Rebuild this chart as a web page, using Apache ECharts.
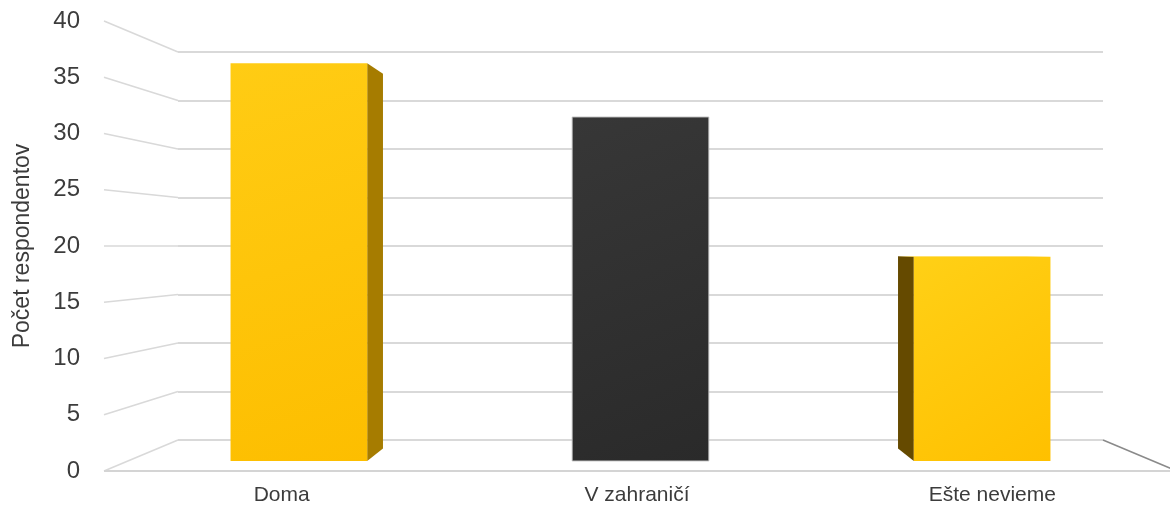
<!DOCTYPE html>
<html><head><meta charset="utf-8">
<script src="https://cdn.jsdelivr.net/npm/echarts@6/dist/echarts.min.js"></script>
<style>html,body{margin:0;padding:0;background:#fff}#c{width:1170px;height:506px}</style>
</head><body><div id="c"></div>
<script>
// ---- data ----
const categories = ['Doma', 'V zahraničí', 'Ešte nevieme'];
const values = [37, 32, 19];
const yTicks = [0, 5, 10, 15, 20, 25, 30, 35, 40];
const yAxisTitle = 'Počet respondentov';

// ---- style ----
const frontColors = [['#ffcc14', '#fdbe00'], ['#373737', '#2a2a2a'], ['#ffd016', '#ffc000']];
const sideColors = ['#a67c00', '#222222', '#654a00'];
const FONT = "'Liberation Sans', Arial, sans-serif";
const TXT = '#3c3c3c';

const W = 1170, H = 506;
const back = { left: 178, right: 67, top: 52, bottom: 66 };
const K_FRONT = 1.16, K_BAR_FRONT = 1.108, K_BAR_BACK = 1.044;
const bw = W - back.left - back.right, bh = H - back.top - back.bottom;
const vx = back.left + bw / 2, vy = back.top + bh / 2;
const front = {
  left: vx - (bw / 2) * K_FRONT,
  right: W - (vx + (bw / 2) * K_FRONT),
  top: vy - (bh / 2) * K_FRONT,
  bottom: H - (vy + (bh / 2) * K_FRONT)
};

function vp(cs) { return [cs.x + cs.width / 2, cs.y + cs.height / 2]; }
function proj(p, k, c) { return [c[0] + (p[0] - c[0]) * k, c[1] + (p[1] - c[1]) * k]; }

function renderBar(params, api) {
  const cs = params.coordSys, c = vp(cs);
  const i = api.value(0), v = api.value(1);
  const b0 = api.coord([i, 0]), t0 = api.coord([i, v]);
  const w = api.size([1, 0])[0] * 0.4;
  const L = b0[0] - w / 2, R = b0[0] + w / 2;
  const f = (x, y) => proj([x, y], K_BAR_FRONT, c);
  const bk = (x, y) => proj([x, y], K_BAR_BACK, c);
  const fl0 = f(L, b0[1]), fr0 = f(R, b0[1]), fl1 = f(L, t0[1]), fr1 = f(R, t0[1]);
  const bl0 = bk(L, b0[1]), br0 = bk(R, b0[1]), bl1 = bk(L, t0[1]), br1 = bk(R, t0[1]);
  const children = [];
  if (R < c[0]) {
    children.push({ type: 'polygon', shape: { points: [fr1, br1, br0, fr0] }, style: { fill: sideColors[i] } });
  } else if (L > c[0]) {
    children.push({ type: 'polygon', shape: { points: [fl1, bl1, bl0, fl0] }, style: { fill: sideColors[i] } });
  }
  if (t0[1] > c[1]) {
    children.push({ type: 'polygon', shape: { points: [fl1, fr1, br1, bl1] }, style: { fill: frontColors[i][0] } });
  }
  const fc = frontColors[i];
  children.push({
    type: 'polygon',
    shape: { points: [fl1, fr1, fr0, fl0] },
    style: {
      fill: new echarts.graphic.LinearGradient(0, 0, 1, 1, [{ offset: 0, color: fc[0] }, { offset: 1, color: fc[1] }]),
      stroke: i === 1 ? 'rgba(190,190,190,0.9)' : null,
      lineWidth: 1
    }
  });
  return { type: 'group', children };
}

function renderFloor(params, api) {
  const cs = params.coordSys, c = vp(cs);
  const v = api.value(0);
  const y = api.coord([0, v])[1];
  const pb = [cs.x, y];
  const pf = proj(pb, K_FRONT, c);
  const children = [{
    type: 'line', shape: { x1: pf[0], y1: pf[1], x2: pb[0], y2: pb[1] },
    style: { stroke: '#d9d9d9', lineWidth: 1.6 }
  }];
  if (v === 0) {
    const rb = [cs.x + cs.width, y];
    const rf = proj(rb, K_FRONT, c);
    children.push({ type: 'line', shape: { x1: pf[0], y1: pf[1], x2: rf[0], y2: rf[1] }, style: { stroke: '#d4d4d4', lineWidth: 2 } });
    children.push({ type: 'line', shape: { x1: rb[0], y1: rb[1], x2: rf[0], y2: rf[1] }, style: { stroke: '#8a8a8a', lineWidth: 1.5 } });
  }
  return { type: 'group', children };
}

const chart = echarts.init(document.getElementById('c'), null, { renderer: 'canvas' });
chart.setOption({
  animation: false,
  backgroundColor: '#ffffff',
  textStyle: { fontFamily: FONT },
  grid: [
    { left: back.left, right: back.right, top: back.top, bottom: back.bottom, containLabel: false },
    { left: front.left, right: front.right, top: front.top, bottom: front.bottom, containLabel: false }
  ],
  xAxis: [
    { type: 'category', gridIndex: 0, data: categories, boundaryGap: true,
      axisLine: { show: false }, axisTick: { show: false }, axisLabel: { show: false }, splitLine: { show: false } },
    { type: 'category', gridIndex: 1, data: categories, boundaryGap: true,
      axisLine: { show: false }, axisTick: { show: false }, splitLine: { show: false },
      axisLabel: { color: TXT, fontSize: 21, margin: 14, fontFamily: FONT } }
  ],
  yAxis: [
    { type: 'value', gridIndex: 0, min: 0, max: 40, interval: 5,
      axisLine: { show: false }, axisTick: { show: false }, axisLabel: { show: false },
      splitLine: { show: true, lineStyle: { color: '#d9d9d9', width: 2 } } },
    { type: 'value', gridIndex: 1, min: 0, max: 40, interval: 5,
      axisLine: { show: false }, axisTick: { show: false }, splitLine: { show: false },
      axisLabel: { color: TXT, fontSize: 24, margin: 24, fontFamily: FONT, padding: [4, 0, 0, 0] },
      name: yAxisTitle, nameLocation: 'middle', nameGap: 70,
      nameTextStyle: { color: TXT, fontSize: 23, fontFamily: FONT, padding: [0, 0, 0, 0] } }
  ],
  series: [
    { type: 'custom', xAxisIndex: 0, yAxisIndex: 0, clip: false, z: 1,
      renderItem: renderFloor, data: yTicks.map(v => [v]) },
    { type: 'custom', xAxisIndex: 0, yAxisIndex: 0, clip: false, z: 2,
      renderItem: renderBar, data: values.map((v, i) => [i, v]) }
  ]
});
</script></body></html>
